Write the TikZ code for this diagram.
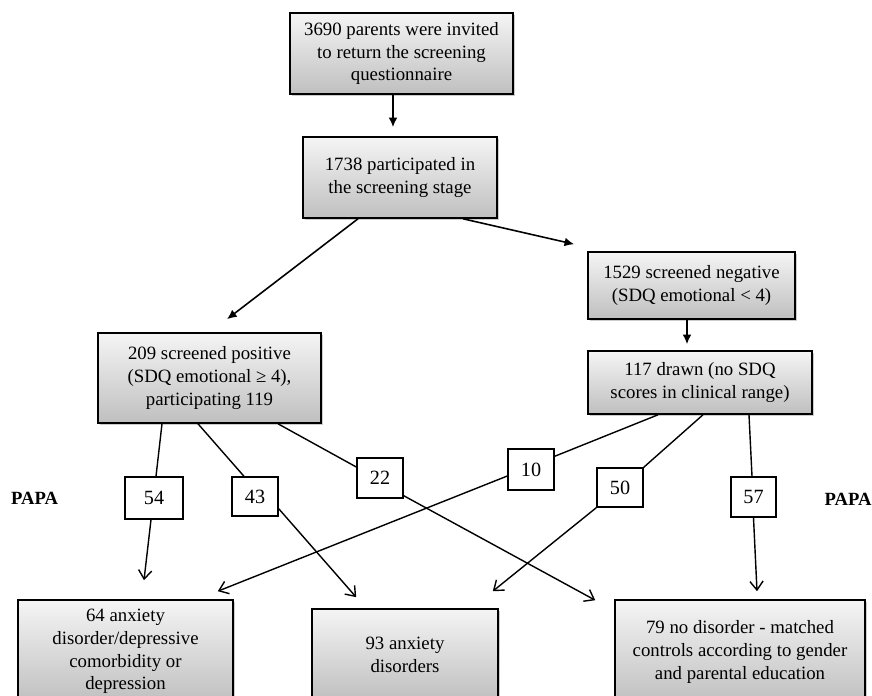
\documentclass[tikz,border=0pt]{standalone}
\usepackage{fontspec}
\setmainfont{Liberation Serif}
\usetikzlibrary{
    arrows.meta,
    calc,
    shadows
}
\def\pxu{0.02cm}
\tikzset{
  bigbox/.style={
    draw=black,
    line width=0.9pt,
    top color=gray!8,
    bottom color=gray!50,
    drop shadow={shadow xshift=1.3pt,shadow yshift=-1.3pt,opacity=0.4},
    align=center,
    inner sep=0pt,
    font=\fontsize{10.7}{13}\selectfont
  },
  numbox/.style={
    draw=black,
    line width=0.8pt,
    fill=white,
    inner sep=0pt,
    font=\fontsize{11.5}{13}\selectfont
  },
  papa/.style={
    font=\fontsize{10.6}{13}\selectfont\bfseries
  },
  fillarr/.style={
    line width=0.9pt,
    -{Latex[length=5.5pt,width=5pt]}
  },
  openarr/.style={
    line width=0.8pt,
    -{Straight Barb[length=5pt,width=7.5pt]}
  },
  link/.style={
    line width=0.8pt
  }
}

\begin{document}
\begin{tikzpicture}[x=\pxu,y=-\pxu]

    % 枠
    \clip (0,0) rectangle (872,696);

    % 上段の箱
    \node[bigbox,minimum width=223*\pxu,minimum height=81*\pxu] (invite) at (401.5,53.5)
        {3690 parents were invited\\ to return the screening\\ questionnaire};
    \node[bigbox,minimum width=194*\pxu,minimum height=81*\pxu] (particip) at (400,177.5)
        {1738 participated in\\ the screening stage};
    \node[bigbox,minimum width=207*\pxu,minimum height=67*\pxu] (neg) at (691.5,285.5)
        {1529 screened negative\\ (SDQ emotional < 4)};
    \node[bigbox,minimum width=224*\pxu,minimum height=63*\pxu] (drawn) at (700,382.5)
        {117 drawn (no SDQ\\ scores in clinical range)};
    \node[bigbox,minimum width=223*\pxu,minimum height=90*\pxu] (pos) at (209.5,378)
        {209 screened positive\\ (SDQ emotional ≥ 4),\\ participating 119};

    % 数字の箱
    \node[numbox,minimum width=58*\pxu,minimum height=42*\pxu] (n54) at (154,498) {54};
    \node[numbox,minimum width=46*\pxu,minimum height=39*\pxu] (n43) at (255,496.5) {43};
    \node[numbox,minimum width=46*\pxu,minimum height=40*\pxu] (n22) at (380,478) {22};
    \node[numbox,minimum width=46*\pxu,minimum height=41*\pxu] (n10) at (531,469.5) {10};
    \node[numbox,minimum width=46*\pxu,minimum height=39*\pxu] (n50) at (620,487.5) {50};
    \node[numbox,minimum width=45*\pxu,minimum height=40*\pxu] (n57) at (753.5,497) {57};

    % PAPA
    \node[papa] (papaL) at (34.5,498) {PAPA};
    \node[papa] (papaR) at (848,499) {PAPA};

    % 下段の箱
    \node[bigbox,minimum width=215*\pxu,minimum height=103*\pxu] (anxdep) at (125.5,651.5)
        {64 anxiety\\ disorder/depressive\\ comorbidity or\\ depression};
    \node[bigbox,minimum width=186*\pxu,minimum height=91*\pxu] (anx) at (405,654.5)
        {93 anxiety\\ disorders};
    \node[bigbox,minimum width=250*\pxu,minimum height=104*\pxu] (nodis) at (740,652)
        {79 no disorder - matched\\ controls according to gender\\ and parental education};

    % 上の矢印
    \draw[fillarr] ($(invite.south)+(-8.5,0)$) -- ($(particip.north)+(-7,-9)$);
    \draw[fillarr] ($(particip.south)+(-42,0)$) -- ($(pos.north)+(17.5,-13)$);
    \draw[fillarr] ($(particip.south)+(63,0)$) -- ($(neg.north west)+(-13,-7)$);
    \draw[fillarr] ($(neg.south)+(-4.5,0)$) -- ($(drawn.north)+(-13,-6)$);

    % 数字の箱へ
    \draw[link] ($(pos.south)+(-47.5,0)$) -- ($(n54.north)+(2,0)$);
    \draw[link] ($(pos.south)+(-11.5,0)$) -- ($(n43.north)+(-11,0)$);
    \draw[link] ($(pos.south)+(68.5,0)$) -- ($(n22.west)+(0,-11)$);
    \draw[link] ($(drawn.south)+(-42,0)$) -- ($(n10.north east)+(0,8)$);
    \draw[link] ($(drawn.south)+(3,0)$) -- (n50.north east);
    \draw[link] ($(drawn.south)+(49,0)$) -- ($(n57.north)+(-1.5,0)$);

    % 下の矢印
    \draw[openarr] ($(n54.south)+(-3,0)$) -- ($(anxdep.north)+(18.5,-19)$);
    \draw[openarr] ($(n43.south east)+(0,-8)$) -- ($(anx.north west)+(45,-11)$);
    \draw[openarr] ($(n22.south east)+(0,-3)$) -- ($(nodis.north west)+(-19,1)$);
    \draw[openarr] ($(n10.west)+(0,6.5)$) -- ($(anxdep.north east)+(-16,-8)$);
    \draw[openarr] (n50.south west) -- ($(anx.north east)+(-6,-17)$);
    \draw[openarr] (n57.south) -- ($(nodis.north)+(17,-8)$);

\end{tikzpicture}
\end{document}
